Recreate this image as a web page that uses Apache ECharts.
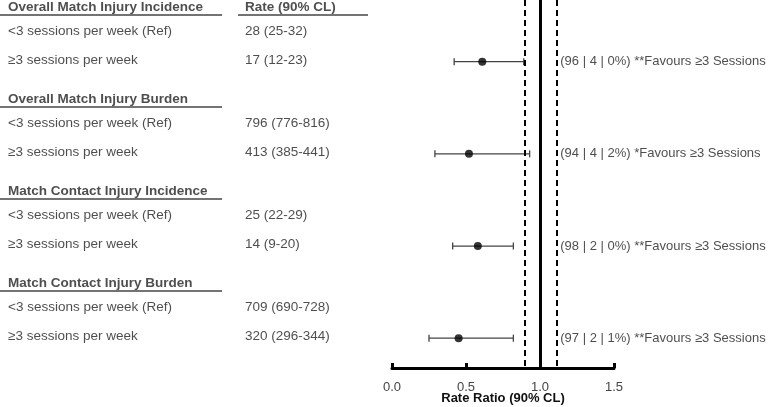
<!DOCTYPE html>
<html><head><meta charset="utf-8">
<script src="https://cdn.jsdelivr.net/npm/echarts@6/dist/echarts.min.js"></script>
<style>html,body{margin:0;padding:0;background:#fff}#c{width:768px;height:407px}</style>
</head><body><div id="c"></div>
<script>
const groups = ['Overall Match Injury Incidence','Overall Match Injury Burden','Match Contact Injury Incidence','Match Contact Injury Burden'];
const refLabel = '<3 sessions per week (Ref)';
const cmpLabel = '\u22653 sessions per week';
const rateHeader = 'Rate (90% CL)';
const refRates = ['28 (25-32)','796 (776-816)','25 (22-29)','709 (690-728)'];
const cmpRates = ['17 (12-23)','413 (385-441)','14 (9-20)','320 (296-344)'];
const ratio = [0.61, 0.52, 0.58, 0.45];
const lower = [0.42, 0.29, 0.41, 0.25];
const upper = [0.89, 0.93, 0.82, 0.82];
const annotations = ['(96 | 4 | 0%) **Favours \u22653 Sessions','(94 | 4 | 2%) *Favours \u22653 Sessions','(98 | 2 | 0%) **Favours \u22653 Sessions','(97 | 2 | 1%) **Favours \u22653 Sessions'];
const xTicks = [0, 0.5, 1.0, 1.5];
const nullValue = 1.0;
const trivialLow = 0.9;
const trivialHigh = 1.11;
const xTitle = 'Rate Ratio (90% CL)';

// layout helpers (row units)
const FONT = '"Liberation Sans", Arial, sans-serif';
const rowY = (g, k) => g * 3 + [0, 0.78, 1.72][k];
const pointY = g => g * 3 + 1.78;
const COL1 = 8, COL2 = 245;

const tableData = [];
groups.forEach((name, g) => {
  tableData.push({value: [COL1, rowY(g,0)], name, label: {fontWeight: 'bold'}});
  if (g === 0) tableData.push({value: [COL2, rowY(g,0)], name: rateHeader, label: {fontWeight: 'bold'}});
  tableData.push({value: [COL1, rowY(g,1)], name: refLabel});
  tableData.push({value: [COL2, rowY(g,1)], name: refRates[g]});
  tableData.push({value: [COL1, rowY(g,2)], name: cmpLabel});
  tableData.push({value: [COL2, rowY(g,2)], name: cmpRates[g]});
});
const UL = 0.245;
const underlines = groups.map((_, g) => [{coord: [0, rowY(g,0) + UL]}, {coord: [222, rowY(g,0) + UL]}]);
underlines.push([{coord: [238, UL]}, {coord: [368, UL]}]);

const yMin = -0.228, yMax = 11.75;
const chart = echarts.init(document.getElementById('c'));
chart.setOption({
  animation: false,
  textStyle: {fontFamily: FONT},
  grid: [
    {left: 392, width: 222, top: 0, height: 368, containLabel: false, outerBoundsMode: 'none'},
    {left: 0, width: 380, top: 0, height: 368, containLabel: false, outerBoundsMode: 'none'}
  ],
  xAxis: [
    {type: 'value', gridIndex: 0, min: 0, max: 1.5, interval: 0.5, position: 'bottom',
     axisLine: {show: true, onZero: false, lineStyle: {color: '#000', width: 3}},
     axisTick: {show: true, inside: true, length: 5, lineStyle: {color: '#000', width: 3}},
     axisLabel: {margin: 13, fontSize: 13, color: '#444', fontFamily: FONT,
       formatter: v => xTicks.includes(v) ? v.toFixed(1) : ''},
     splitLine: {show: false},
     name: xTitle, nameLocation: 'middle', nameGap: 24, nameMoveOverlap: false,
     nameTextStyle: {fontWeight: 'bold', fontSize: 13, color: '#111', fontFamily: FONT}},
    {type: 'value', gridIndex: 1, min: 0, max: 380, show: false}
  ],
  yAxis: [
    {type: 'value', gridIndex: 0, min: yMin, max: yMax, inverse: true, show: false},
    {type: 'value', gridIndex: 1, min: yMin, max: yMax, inverse: true, show: false}
  ],
  series: [
    {
      type: 'scatter', xAxisIndex: 1, yAxisIndex: 1, symbolSize: 0, silent: true,
      data: tableData,
      label: {show: true, position: 'right', distance: 0, formatter: p => p.name,
        fontSize: 13.5, color: '#222', fontFamily: FONT},
      markLine: {silent: true, symbol: 'none', label: {show: false},
        lineStyle: {color: '#444', width: 1.5, type: 'solid'}, data: underlines}
    },
    {
      type: 'custom', xAxisIndex: 0, yAxisIndex: 0, silent: true,
      data: ratio.map((_, g) => [lower[g], upper[g], pointY(g)]),
      encode: {x: [0, 1], y: 2},
      renderItem: (params, api) => {
        const y = api.value(2);
        const a = api.coord([api.value(0), y]);
        const b = api.coord([api.value(1), y]);
        const st = {stroke: '#444', lineWidth: 1.3};
        const h = 3.5;
        return {type: 'group', children: [
          {type: 'line', shape: {x1: a[0], y1: a[1], x2: b[0], y2: b[1]}, style: st},
          {type: 'line', shape: {x1: a[0], y1: a[1]-h, x2: a[0], y2: a[1]+h}, style: st},
          {type: 'line', shape: {x1: b[0], y1: b[1]-h, x2: b[0], y2: b[1]+h}, style: st}
        ]};
      }
    },
    {
      type: 'scatter', xAxisIndex: 0, yAxisIndex: 0, symbolSize: 8, silent: true,
      itemStyle: {color: '#000'},
      data: ratio.map((r, g) => [r, pointY(g)]),
      markLine: {silent: true, symbol: 'none', label: {show: false},
        data: [
          {xAxis: nullValue, lineStyle: {color: '#000', width: 3, type: 'solid'}},
          {xAxis: trivialLow, lineStyle: {color: '#000', width: 2, type: [6, 4]}},
          {xAxis: trivialHigh, lineStyle: {color: '#000', width: 2, type: [6, 4]}}
        ]}
    },
    {
      type: 'scatter', xAxisIndex: 0, yAxisIndex: 0, symbolSize: 0, silent: true,
      data: annotations.map((t, g) => ({value: [trivialHigh, pointY(g)], name: t})),
      label: {show: true, position: 'right', distance: 4, formatter: p => p.name,
        fontSize: 13, color: '#222', fontFamily: FONT}
    }
  ]
});
</script></body></html>
